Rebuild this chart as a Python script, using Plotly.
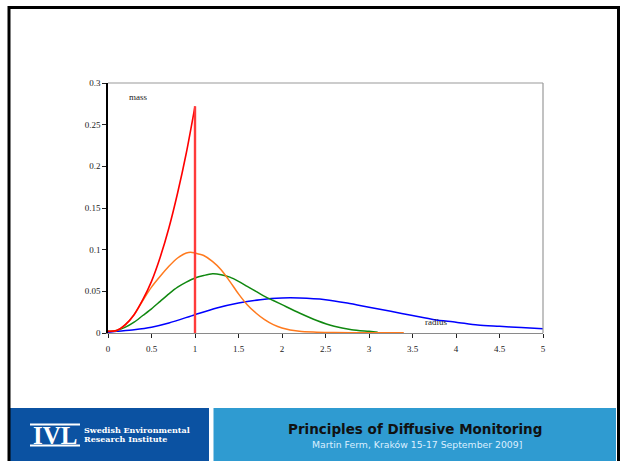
import plotly.graph_objects as go

# ---------------- data ----------------
red_x = [0, 0.1, 0.2, 0.3, 0.4, 0.5, 0.6, 0.7, 0.8, 0.9, 1.0]
red_y = [0.002, 0.003, 0.010, 0.022, 0.040, 0.062, 0.091, 0.126, 0.168, 0.216, 0.272]

orange_x = [0, 0.1, 0.2, 0.3, 0.4, 0.5, 0.6, 0.7, 0.8, 0.9, 0.95, 1.0, 1.1, 1.2, 1.3,
            1.4, 1.5, 1.6, 1.7, 1.8, 1.9, 2.0, 2.2, 2.4, 2.6, 3.0, 3.4]
orange_y = [0.002, 0.003, 0.010, 0.022, 0.039, 0.055, 0.068, 0.080, 0.090, 0.096, 0.097,
            0.096, 0.093, 0.086, 0.076, 0.062, 0.047, 0.034, 0.024, 0.016, 0.010, 0.006,
            0.002, 0.001, 0.0005, 0.0003, 0.0003]

green_x = [0, 0.1, 0.2, 0.3, 0.4, 0.5, 0.6, 0.7, 0.8, 0.9, 1.0, 1.1, 1.2, 1.3, 1.4,
           1.5, 1.6, 1.7, 1.8, 1.9, 2.0, 2.2, 2.4, 2.6, 2.8, 3.0, 3.1]
green_y = [0.002, 0.003, 0.007, 0.013, 0.021, 0.029, 0.038, 0.047, 0.055, 0.061, 0.066,
           0.069, 0.071, 0.070, 0.067, 0.062, 0.056, 0.050, 0.044, 0.039, 0.034, 0.024,
           0.015, 0.008, 0.004, 0.002, 0.001]

blue_x = [0, 0.1, 0.3, 0.5, 0.7, 1.0, 1.25, 1.5, 1.75, 2.0, 2.2, 2.5, 2.75, 3.0, 3.25,
          3.5, 3.75, 4.0, 4.25, 4.5, 4.75, 5.0]
blue_y = [0.001, 0.002, 0.004, 0.007, 0.012, 0.022, 0.030, 0.036, 0.040, 0.042, 0.042,
          0.040, 0.036, 0.031, 0.026, 0.021, 0.016, 0.013, 0.0095, 0.008, 0.0065, 0.005]

mass_cutoff = 1.0

x_ticks = [0, 0.5, 1, 1.5, 2, 2.5, 3, 3.5, 4, 4.5, 5]
x_tick_labels = ["0", "0.5", "1", "1.5", "2", "2.5", "3", "3.5", "4", "4.5", "5"]
y_ticks = [0, 0.05, 0.1, 0.15, 0.2, 0.25, 0.3]
y_tick_labels = ["0", "0.05", "0.1", "0.15", "0.2", "0.25", "0.3"]

label_mass = ("mass", 0.35, 0.283)
label_radius = ("radius", 3.77, 0.013)

title_text = "Principles of Diffusive Monitoring"
subtitle_text = "Martin Ferm, Kraków 15-17 September 2009]"
logo_text = "IVL"
logo_sub1 = "Swedish Environmental"
logo_sub2 = "Research Institute"

# ---------------- layout geometry ----------------
W, H = 622, 461
ML, MR, MT, MB = 108, 79, 83, 128
PW, PH = W - ML - MR, H - MT - MB


def px(x):
    return (x - ML) / PW


def py(y):
    return (H - MB - y) / PH


SERIF = "Liberation Serif, Times New Roman, serif"
SERIF_WIDE = "DejaVu Serif, serif"
SANS = "DejaVu Sans, Verdana, sans-serif"

fig = go.Figure()

fig.add_trace(go.Scatter(x=blue_x, y=blue_y, mode="lines",
                         line=dict(color="#0000ff", width=1.5, shape="spline", smoothing=0.8),
                         showlegend=False))
fig.add_trace(go.Scatter(x=green_x, y=green_y, mode="lines",
                         line=dict(color="#108810", width=1.5, shape="spline", smoothing=0.8),
                         showlegend=False))
fig.add_trace(go.Scatter(x=orange_x, y=orange_y, mode="lines",
                         line=dict(color="#ff7a1e", width=1.5, shape="spline", smoothing=0.8),
                         showlegend=False))
fig.add_trace(go.Scatter(x=red_x, y=red_y, mode="lines",
                         line=dict(color="#ff0000", width=1.6, shape="spline", smoothing=0.8),
                         showlegend=False))
fig.add_trace(go.Scatter(x=[mass_cutoff, mass_cutoff], y=[0, red_y[-1]], mode="lines",
                         line=dict(color="#ff3b3b", width=2.4),
                         showlegend=False))

shapes = []
# plot frame: top and right grey
shapes.append(dict(type="line", xref="paper", yref="paper", x0=0, x1=1, y0=1, y1=1,
                   line=dict(color="#999999", width=1.2)))
shapes.append(dict(type="line", xref="paper", yref="paper", x0=1, x1=1, y0=0, y1=1,
                   line=dict(color="#999999", width=1.2)))
# footer boxes
shapes.append(dict(type="rect", xref="paper", yref="paper",
                   x0=px(10), x1=px(209), y0=py(461), y1=py(408),
                   fillcolor="#0b52a2", line=dict(width=0), layer="below"))
shapes.append(dict(type="rect", xref="paper", yref="paper",
                   x0=px(213.5), x1=px(616), y0=py(461), y1=py(408),
                   fillcolor="#2f9bd1", line=dict(width=0), layer="below"))
# logo bars
shapes.append(dict(type="line", xref="paper", yref="paper",
                   x0=px(30), x1=px(80), y0=py(424.5), y1=py(424.5),
                   line=dict(color="white", width=2)))
shapes.append(dict(type="line", xref="paper", yref="paper",
                   x0=px(30), x1=px(80), y0=py(445.5), y1=py(445.5),
                   line=dict(color="white", width=2)))
# slide border
shapes.append(dict(type="rect", xref="paper", yref="paper",
                   x0=px(9), x1=px(618.5), y0=py(470), y1=py(7.5),
                   line=dict(color="black", width=3), fillcolor="rgba(0,0,0,0)"))
fig.update_layout(shapes=shapes)


def note(x, y, text, font, xanchor="center"):
    return dict(x=x, y=y, xref="paper", yref="paper",
                text=text, showarrow=False, xanchor=xanchor, yanchor="middle",
                font=font)


annotations = [
    dict(x=label_mass[1], y=label_mass[2], xref="x", yref="y", text=label_mass[0],
         showarrow=False, xanchor="center", yanchor="middle",
         font=dict(family=SERIF, size=9, color="#222")),
    dict(x=label_radius[1], y=label_radius[2], xref="x", yref="y", text=label_radius[0],
         showarrow=False, xanchor="center", yanchor="middle",
         font=dict(family=SERIF, size=9, color="#222")),
    note(px(415), py(428.5), "<b>%s</b>" % title_text,
         dict(family=SANS, size=13.5, color="#111")),
    note(px(416.5), py(444), subtitle_text,
         dict(family=SANS, size=9.3, color="#dcefff")),
    note(px(55), py(435.5), "<b>%s</b>" % logo_text,
         dict(family=SERIF, size=25, color="white")),
    note(px(82), py(429.5), "<b>%s</b>" % logo_sub1,
         dict(family=SERIF_WIDE, size=8, color="white"), xanchor="left"),
    note(px(82), py(438.5), "<b>%s</b>" % logo_sub2,
         dict(family=SERIF_WIDE, size=8, color="white"), xanchor="left"),
]

fig.update_layout(
    width=W, height=H,
    margin=dict(l=ML, r=MR, t=MT, b=MB, pad=0),
    paper_bgcolor="white", plot_bgcolor="white",
    annotations=annotations,
    showlegend=False,
    xaxis=dict(range=[0, 5], tickvals=x_ticks, ticktext=x_tick_labels,
               showgrid=False, zeroline=False,
               showline=True, linecolor="#8a8a8a", linewidth=1.2,
               ticks="outside", ticklen=4, tickcolor="#222", tickwidth=1,
               ticklabelstandoff=3,
               tickfont=dict(family=SERIF, size=9, color="#222")),
    yaxis=dict(range=[0, 0.3], tickvals=y_ticks, ticktext=y_tick_labels,
               showgrid=False, zeroline=False,
               showline=True, linecolor="black", linewidth=1.5,
               ticks="outside", ticklen=4, tickcolor="#222", tickwidth=1,
               tickfont=dict(family=SERIF, size=9, color="#222")),
)

fig.write_html("out.html")
